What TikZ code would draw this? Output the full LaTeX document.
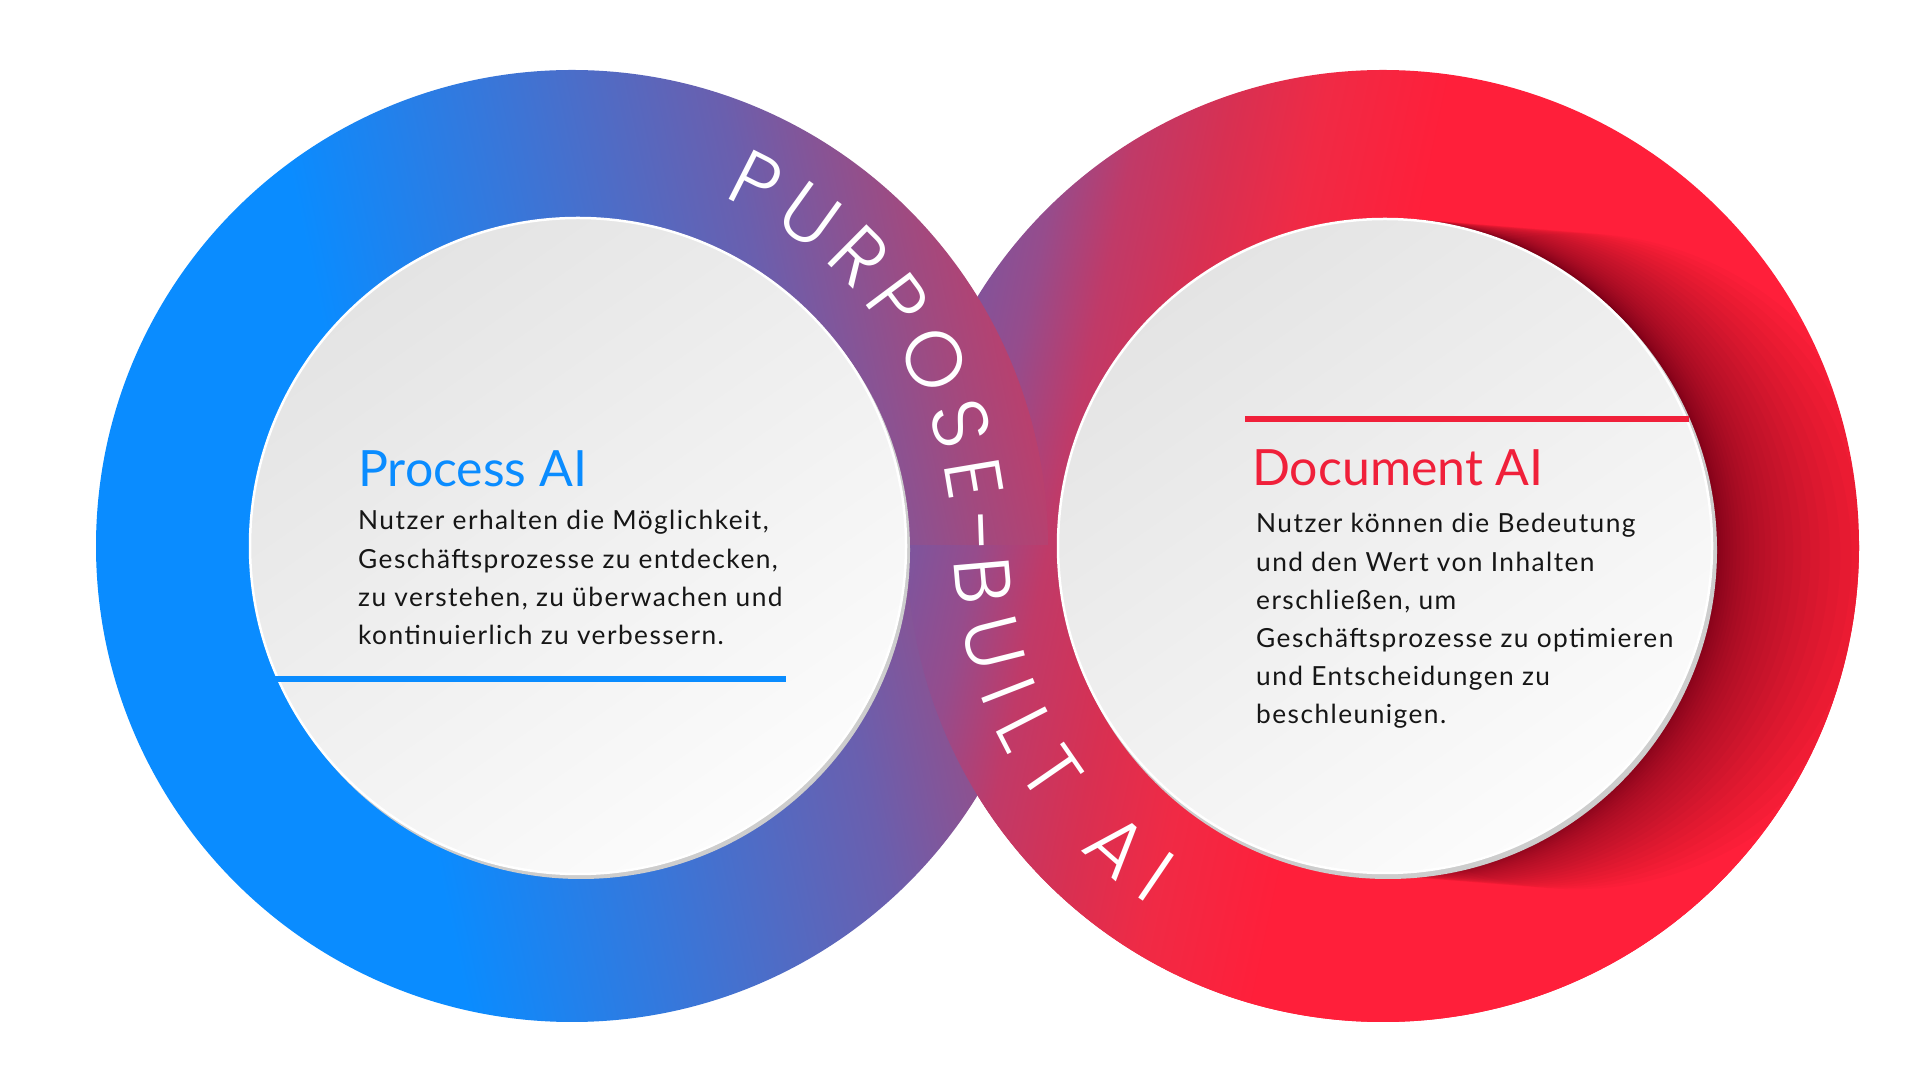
\documentclass[tikz,border=0pt]{standalone}
\usepackage{fontspec}
\setmainfont{Lato}
\newfontfamily\bandfont{Poppins}[UprightFont={* Light}]
\newfontfamily\bodyfont{Lato}[LetterSpace=5.5]
\usetikzlibrary{decorations.text}
\definecolor{pblue}{HTML}{0A8CFF}
\definecolor{pred}{HTML}{F0203A}
\definecolor{bodytext}{HTML}{161616}
\definecolor{lrA}{HTML}{0A8CFF}
\definecolor{lrB}{HTML}{3578DC}
\definecolor{lrC}{HTML}{6A5FAE}
\definecolor{lrD}{HTML}{A04A80}
\definecolor{lrE}{HTML}{B8406E}
\definecolor{lrF}{HTML}{C83A62}
\definecolor{rrA}{HTML}{7A56A0}
\definecolor{rrB}{HTML}{964C8C}
\definecolor{rrC}{HTML}{C03A68}
\definecolor{rrD}{HTML}{D83052}
\definecolor{rrE}{HTML}{F02A45}
\definecolor{rrF}{HTML}{FF1F3A}
\definecolor{discTop}{HTML}{E4E4E4}
\definecolor{discBot}{HTML}{FCFCFC}
\definecolor{rimgray}{HTML}{CDCDCD}
\pgfdeclarehorizontalshading{leftring}{100bp}{color(0bp)=(lrA); color(39.5bp)=(lrA); color(50bp)=(lrB); color(62.6bp)=(lrC); color(71bp)=(lrD); color(75bp)=(lrE); color(100bp)=(lrF)}
\pgfdeclarehorizontalshading{rightring}{100bp}{color(0bp)=(rrA); color(25bp)=(rrA); color(29bp)=(rrB); color(32.7bp)=(rrC); color(37.4bp)=(rrD); color(42.1bp)=(rrE); color(48.4bp)=(rrF); color(100bp)=(rrF)}
\tikzset{
  disc/.style={top color=discTop, bottom color=discBot, shading angle=35, draw=white, line width=2.5pt},
  rim/.style={fill=rimgray},
  heading/.style={anchor=base west, inner sep=0pt, font=\fontsize{50}{60}\selectfont},
  bodybox/.style={anchor=base west, inner sep=0pt, text=bodytext},
  rule/.style={line width=6pt},
  bandtext/.style={decorate, decoration={text along path, text color=white,
     text={|\bandfont\fontsize{79}{90}\selectfont|#1}, text align={fit to path}}}
}
\newcommand{\bodyfmt}{\bodyfont\fontsize{26.3}{38.2}\selectfont}
\begin{document}
\begin{tikzpicture}[x=1pt,y=1pt]
\useasboundingbox (0,0) rectangle (1921,1081);
\fill[white] (0,0) rectangle (1921,1081);
\coordinate (LC) at (572,535);
\coordinate (RC) at (1383,535);
\coordinate (LI) at (578,535);
\coordinate (RI) at (1385,535);
% right ring
\shade[shading=rightring, shading angle=-12] (RC) circle[radius=476];
% left ring over it
\shade[shading=leftring, shading angle=12] (LC) circle[radius=476];
% right ring over left ring in the lower half
\begin{scope}
  \clip (0,0) rectangle (1921,535);
  \shade[shading=rightring, shading angle=-12] (RC) circle[radius=476];
\end{scope}
% shadow of the right disc
\begin{scope}
  \clip (RC) circle[radius=476];
  \foreach \k in {1,...,40}{
    \pgfmathsetmacro\s{190*(\k/40)^3}
    \fill[black, opacity=0.02] ({1385+\s},{535-0.08*\s}) circle[radius=328];
  }
\end{scope}
% discs
\fill[rim] (581,531) circle[radius=329];
\shade[disc] (LI) circle[radius=328];
\fill[rim] (1388,531) circle[radius=329];
\shade[disc] (RI) circle[radius=327];
% band text
\path[bandtext={PURPOSE-}]
   (572,535) ++(66.5:380) arc[start angle=66.5, end angle=-1.2, radius=380];
\path[bandtext={BUILT AI}]
   (1381,535) ++(181.8:427) arc[start angle=181.8, end angle=237, radius=427];
% left content
\node[heading, text=pblue] (ptitle) at (358,594) {Process AI};
\node[bodybox] (pbody) at (358,551) {\parbox[t]{560pt}{\bodyfmt\raggedright
Nutzer erhalten die Möglichkeit,\\
Geschäftsprozesse zu entdecken,\\
zu verstehen, zu überwachen und\\
kontinuierlich zu verbessern.}};
\coordinate (bl1) at (271,402);
\coordinate (bl2) at (786,402);
\draw[rule, pblue] (bl1) -- (bl2);
% right content
\coordinate (rl1) at (1245,662);
\coordinate (rl2) at (1689,662);
\draw[rule, pred] (rl1) -- (rl2);
\node[heading, text=pred] (dtitle) at (1252,595) {Document AI};
\node[bodybox] (dbody) at (1256,548) {\parbox[t]{560pt}{\bodyfmt\raggedright
Nutzer können die Bedeutung\\
und den Wert von Inhalten\\
erschließen, um\\
Geschäftsprozesse zu optimieren\\
und Entscheidungen zu\\
beschleunigen.}};
\end{tikzpicture}
\end{document}
